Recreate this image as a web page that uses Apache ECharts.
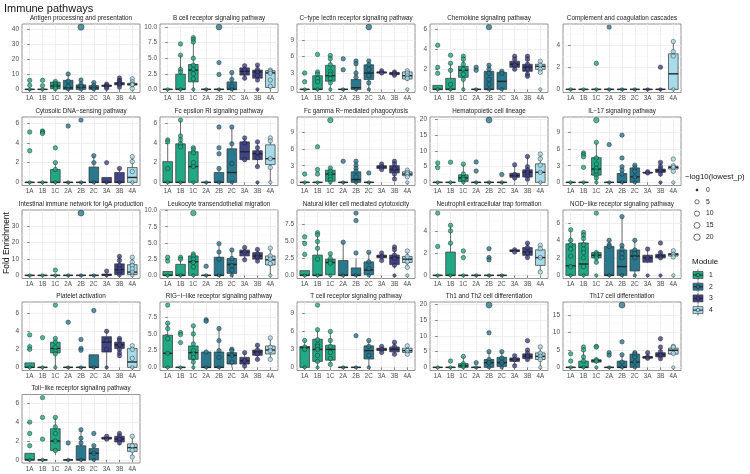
<!DOCTYPE html>
<html><head><meta charset="utf-8">
<script src="https://cdn.jsdelivr.net/npm/echarts@6/dist/echarts.min.js"></script>
<style>html,body{margin:0;padding:0;background:#fff}#c{width:750px;height:474px}</style>
</head><body><div id="c"></div>
<script>
// ---------- data ----------
const categories = ['1A','1B','1C','2A','2B','2C','3A','3B','4A'];
const modules = [1,1,1,2,2,2,3,3,4];
const panelTitles = [
 'Antigen processing and presentation','B cell receptor signaling pathway','C\u2212type lectin receptor signaling pathway','Chemokine signaling pathway','Complement and coagulation cascades',
 'Cytosolic DNA\u2212sensing pathway','Fc epsilon RI signaling pathway','Fc gamma R\u2212mediated phagocytosis','Hematopoietic cell lineage','IL\u221217 signaling pathway',
 'Intestinal immune network for IgA production','Leukocyte transendothelial migration','Natural killer cell mediated cytotoxicity','Neutrophil extracellular trap formation','NOD\u2212like receptor signaling pathway',
 'Platelet activation','RIG\u2212I\u2212like receptor signaling pathway','T cell receptor signaling pathway','Th1 and Th2 cell differentiation','Th17 cell differentiation',
 'Toll\u2212like receptor signaling pathway'];
// y tick labels per panel
const ticks_antigen=['0','10','20','30','40'];
const ticks_bcell=['0.0','2.5','5.0','7.5','10.0'];
const ticks_ctype=['0','3','6','9'];
const ticks_chemo=['0','2','4','6'];
const ticks_compl=['0','2','4'];
const ticks_cyto=['0','2','4','6'];
const ticks_fceps=['0','2','4','6'];
const ticks_fcgam=['0','3','6','9'];
const ticks_hema=['0','5','10','15','20'];
const ticks_il17=['0','3','6','9'];
const ticks_iga=['0','10','20','30'];
const ticks_leuko=['0.0','2.5','5.0','7.5','10.0'];
const ticks_nk=['0.0','2.5','5.0','7.5'];
const ticks_neut=['0','2','4'];
const ticks_nod=['0','2','4','6'];
const ticks_plat=['0','2','4','6'];
const ticks_rig=['0.0','2.5','5.0','7.5'];
const ticks_tcell=['0','3','6','9'];
const ticks_th12=['0','5','10','15','20'];
const ticks_th17=['0','5','10','15'];
const ticks_toll=['0','2','4','6'];
// box stats [min, Q1, median, Q3, max] per category 1A..4A
const Z=[0,0,0,0,0];
const box_antigen=[Z,Z,[0,0.5,2.2,4.8,5.2],[0,0,1,6,10.2],[0,0,1.5,3,6.2],[0,0,1,2.5,4.5],[0.8,2,2.5,2.8,3.5],[1.5,3,3.8,4.5,7.5],[0.5,2.8,3.4,4,7]];
const box_bcell=[Z,[0,0,0,2.45,5.5],[0,1.2,3.1,4.0,8.3],Z,Z,[0,0,0,1.2,2.7],[1.75,2.3,2.9,3.45,3.8],[1.4,1.8,2.8,3.1,3.9],[0,0.3,2.65,3.0,3.1]];
const box_ctype=[Z,[0,0,0,2.5,3.2],[0,1.5,2.5,4.4,6.2],Z,[0,0,0.3,1.8,5.2],[0,1.8,3.0,4.5,5.2],[2.8,3.0,3.1,3.2,3.4],[2.5,2.7,2.9,3.1,3.2],[1.5,1.9,2.5,3.2,3.4]];
const box_chemo=[[0,0,0,0.4,0.4],[0,0,0,1.1,2.6],[0,1.2,1.9,2.3,3.4],Z,[0,0,0,1.8,2.5],[0,0,0.8,1.7,1.8],[1.9,2.2,2.5,2.8,3.3],[1.3,1.8,2.2,2.5,3.3],[1.7,2.0,2.3,2.5,2.8]];
const box_compl=[Z,Z,Z,Z,Z,Z,Z,Z,[0,0,1.4,3.2,4.3]];
const box_cyto=[Z,Z,[0,0,0,1.3,2.0],Z,Z,[0,0,0,1.55,2.7],[0,0,0,0.5,0.5],[0,0,0,1.0,1.4],[0,0,0.5,1.5,2.6]];
const box_fceps=[[0,0,0,2.1,4.3],[0,0,0,3.9,6.3],[0,0,1.6,3.1,3.5],Z,[0,0,0,1.0,1.4],[0,0,1.0,3.4,5.6],[2.2,2.3,3.1,4.1,4.5],[1.6,2.3,2.9,3.2,4.1],[0,1.8,2.4,3.8,4.5]];
const box_fcgam=[Z,Z,[0,0.2,1.5,2.2,2.6],Z,[0,0,0.5,1.9,3.8],Z,[2.2,2.5,2.8,3.0,3.3],[0.6,1.7,2.3,3.0,3.8],[0.8,1.2,1.5,1.9,2.2]];
const box_hema=[Z,Z,[0,0.3,1.4,2.4,5.8],Z,Z,Z,[0.3,1.6,2.2,2.9,5.6],[0.5,1.7,3.2,4.0,8.2],[0,0,3.2,5.9,9.0]];
const box_il17=[Z,Z,[0,1.3,2.4,4.45,7.2],Z,[0,0,0,1.6,2.8],[0,0,1.0,2.6,3.1],[1.6,1.7,1.75,1.8,1.9],[1.0,1.8,2.1,2.4,3.6],[1.8,2.4,2.7,2.9,3.2]];
const box_iga=[Z,Z,Z,Z,Z,Z,[0,0,0.2,0.8,0.8],[0,0.5,3.5,7,11.5],[0,0.5,2,6.5,11]];
const box_leuko=[[0,0,0,0.6,0.6],[0,0,0,1.7,2.8],[0,0,2.1,3.0,3.3],Z,[0,0,0,2.8,4.9],[0,0.3,1.7,2.6,3.9],[2.4,3.0,3.6,3.9,4.3],[2.0,2.5,3.0,3.5,4.0],[0,1.6,2.4,3.0,4.2]];
const box_nk=[[0,0,0,0.7,0.7],[0,0,0,3.0,6.3],[0,0.1,1.9,2.4,3.2],[0,0,0,2.2,4.9],[0,0,0,1.1,2.5],[0,0.1,0.8,2.0,3.4],[2.2,2.6,2.8,3.0,3.3],[1.0,1.6,2.6,3.0,4.2],[1.2,1.9,2.4,2.8,3.6]];
const box_neut=[Z,[0,0,0,2.1,4.5],Z,Z,Z,Z,[2.1,2.15,2.2,2.3,2.35],[1.5,1.8,2.1,2.5,2.9],[0.3,0.9,1.6,2.3,2.7]];
const box_nod=[[0,0,1.1,3.6,5.2],[0,0,1.3,3.7,4.9],[1.5,2.0,2.3,2.6,2.8],[0,0,0,3.3,4.0],[0,0,1.0,2.9,6.7],[0,0.5,2.2,2.9,4.0],[1.4,1.5,2.0,2.3,3.0],[1.8,2.0,2.2,2.4,2.8],[2.0,2.2,2.4,2.5,2.8]];
const box_plat=[[0,0,0,0.5,0.5],Z,[0,1.6,2.1,2.8,3.2],Z,Z,[0,0,0,1.4,1.4],[0,1.7,2.8,3.4,4.0],[1.3,2.1,2.5,2.8,3.2],[0,0,0.6,2.1,2.4]];
const box_rig=[[0,0,2.1,4.8,6.6],Z,[0,1.2,2.2,3.2,6.2],[0,0,0,2.3,2.3],[0,0,0,2.3,5.8],[0,0.5,1.8,2.2,2.7],[0.2,0.5,1.0,1.5,2.2],[1.2,1.8,2.3,2.6,3.3],[1.2,2.0,2.6,3.2,4.4]];
const box_tcell=[[0,0,3.3,3.5,4.5],[0,1.0,3.0,4.7,6.3],[0.5,1.2,3.0,3.7,6.0],Z,Z,[0,1.4,2.8,3.6,4.5],[2.5,2.8,3.0,3.2,3.5],[2.2,2.6,3.0,3.4,4.2],[2.2,2.5,2.8,3.2,3.6]];
const box_th12=[Z,Z,[0,0,0.5,1.2,3.5],Z,[0,0,1.5,2.5,5.0],[0,0.3,1.5,3.2,5.0],[0.5,1.9,2.5,3.0,3.7],[2.0,2.8,3.5,4.3,5.5],[0,2.5,3.5,4.6,6.5]];
const box_th17=[Z,[0,0,0,1.8,5.8],[1.0,1.5,1.9,2.2,2.8],Z,[0,0,0,1.8,3.6],[0,0,1.5,3.8,4.2],[2.5,2.6,2.9,3.1,4.2],[2.0,3.0,3.6,4.2,5.8],[3.8,3.8,4.9,5.5,6.0]];
const box_toll=[[0,0,0,0.7,0.7],Z,[0.5,1.0,2.0,3.3,4.5],Z,[0,0,0,1.5,3.2],[0,0,0.7,1.2,1.5],[2.1,2.2,2.3,2.4,2.5],[1.6,1.9,2.2,2.5,2.8],[0.3,0.9,1.3,1.7,2.5]];
// points: [category, fold enrichment, -log10(p) (optional)]
const pts_antigen=[['1A',6],['1A',2.7],['1A',0],['1B',6],['1B',2.5],['1B',0],['1C',5.2],['1C',4],['1C',3],['1C',2],['1C',1.2],['1C',0.5],['2A',10.2],['2A',5.5],['2A',2],['2A',0],['2B',41.3,18],['2B',6.2],['2B',3.5],['2B',2],['2B',0],['2C',4.5],['2C',2.5],['2C',1],['2C',0],['3A',3.5],['3A',2.6],['3A',1.5],['3A',0.8],['3B',7.5],['3B',6],['3B',5],['3B',4],['3B',3],['3B',1.5],['4A',7],['4A',5],['4A',3.5],['4A',3],['4A',0.5]];
const pts_bcell=[['1A',0],['1B',7.3],['1B',5.5],['1B',3.2],['1B',2.8],['1B',0],['1C',8.3],['1C',8.0],['1C',7.6],['1C',5.0],['1C',3.9],['1C',3.2],['1C',2.5],['1C',1.7],['1C',0],['2A',0],['2B',10.0,14],['2B',4.3],['2B',2.4],['2B',0],['2C',2.7],['2C',1.6],['2C',0.5],['2C',0],['3A',3.8],['3A',3.2],['3A',2.6],['3A',1.8],['3B',3.9],['3B',3.2],['3B',2.8],['3B',2.2],['3B',1.5],['3B',0],['4A',3.1],['4A',2.9],['4A',2.6],['4A',1.5],['4A',0.5]];
const pts_ctype=[['1A',3.0],['1A',1.4],['1A',0],['1B',6.4],['1B',3.2],['1B',2.8],['1B',2.0],['1B',1.4],['1B',0],['1C',6.2],['1C',5.6],['1C',4.5],['1C',3.3],['1C',2.8],['1C',2.0],['1C',1.2],['1C',0],['2A',5.6],['2A',3.6],['2A',0],['2B',5.2],['2B',4.7],['2B',3.0],['2B',2.2],['2B',0],['2C',11.4,14],['2C',5.2],['2C',4.5],['2C',3.6],['2C',2.5],['2C',1.2],['2C',0],['3A',3.4],['3A',3.0],['3B',3.2],['3B',2.9],['3B',2.6],['4A',3.4],['4A',3.0],['4A',2.5],['4A',2.0],['4A',0]];
const pts_chemo=[['1A',4.4],['1A',2.2],['1A',1.6],['1A',0],['1B',3.4],['1B',2.6],['1B',1.9],['1B',0.5],['1B',0],['1C',3.3],['1C',3.0],['1C',2.5],['1C',2.0],['1C',1.5],['1C',1.0],['1C',0],['2A',2.2],['2A',1.9],['2A',0],['2B',6.2,12],['2B',2.4],['2B',2.0],['2B',1.6],['2B',1.0],['2B',0.5],['2B',0],['2C',1.8],['2C',1.6],['2C',0],['3A',3.3],['3A',3.0],['3A',2.4],['3A',2.0],['3B',3.3],['3B',3.0],['3B',2.5],['3B',2.0],['3B',1.5],['3B',1.3],['4A',2.8],['4A',2.4],['4A',2.0],['4A',1.7],['4A',0]];
const pts_compl=[['1A',0],['1B',0],['1C',2.35],['1C',0],['2A',5.6],['2A',0],['2B',0],['2C',0],['3A',0],['3B',2.0],['3B',0],['4A',4.3],['4A',3.4],['4A',3.0],['4A',0]];
const pts_cyto=[['1A',5.1],['1A',3.2],['1A',0],['1B',5.2],['1B',5.1],['1B',4.95],['1B',0],['1C',3.5],['1C',2.0],['1C',1.3],['1C',0],['2A',5.7],['2A',0],['2B',6.3],['2B',0],['2C',2.7],['2C',2.0],['2C',0],['3A',2.0],['3A',0],['3B',1.4],['3B',0],['4A',2.6],['4A',2.1],['4A',1.1],['4A',0]];
const pts_fceps=[['1A',4.3],['1A',4.1],['1A',1.4],['1A',0],['1B',6.3],['1B',4.7],['1B',4.3],['1B',3.9],['1B',3.6],['1B',0],['1C',3.5],['1C',3.3],['1C',3.0],['1C',2.0],['1C',1.6],['1C',0],['2A',0],['2B',5.6],['2B',3.5],['2B',2.9],['2B',1.4],['2B',0],['2C',5.6],['2C',3.9],['2C',1.9],['2C',0],['3A',4.5],['3A',4.0],['3A',2.3],['3B',4.1],['3B',3.5],['3B',3.0],['3B',2.5],['3B',1.6],['3B',0],['4A',4.5],['4A',4.2],['4A',2.4],['4A',1.5],['4A',0]];
const pts_fcgam=[['1A',1.5],['1A',0],['1B',6.4],['1B',2.3],['1B',1.5],['1B',0],['1C',11.2,12],['1C',2.6],['1C',2.0],['1C',1.5],['1C',1.0],['1C',0.5],['1C',0],['2A',3.8],['2A',0],['2B',3.8],['2B',3.1],['2B',2.5],['2B',2.0],['2B',1.0],['2B',0],['2C',1.7],['2C',0],['3A',3.3],['3A',2.8],['3A',2.3],['3B',3.8],['3B',3.3],['3B',2.5],['3B',1.5],['3B',0.6],['4A',2.2],['4A',1.8],['4A',1.5],['4A',1.0],['4A',0]];
const pts_hema=[['1A',6.2],['1A',4.7],['1A',0],['1B',6.4],['1B',0],['1C',5.8],['1C',2.7],['1C',1.5],['1C',1.0],['1C',0],['2A',6.5],['2A',3.6],['2A',0],['2B',19.8,16],['2B',0],['2C',2.5],['2C',0],['3A',5.6],['3A',2.5],['3A',1.4],['3B',8.2],['3B',5.0],['3B',4.0],['3B',3.0],['3B',2.0],['3B',1.0],['4A',9.0],['4A',7.5],['4A',5.5],['4A',3.2],['4A',0]];
const pts_il17=[['1A',0],['1B',5.3],['1B',5.0],['1B',4.6],['1B',2.7],['1B',0],['1C',11.2,12],['1C',7.2],['1C',4.4],['1C',3.3],['1C',2.5],['1C',2.0],['1C',1.3],['1C',0.8],['1C',0],['2A',6.8],['2A',0],['2B',8.5],['2B',4.4],['2B',2.8],['2B',2.2],['2B',1.5],['2B',0],['2C',3.1],['2C',2.6],['2C',2.0],['2C',1.0],['2C',0],['3A',1.9],['3A',1.7],['3B',3.6],['3B',2.9],['3B',2.4],['3B',2.0],['3B',1.5],['3B',0],['4A',4.2],['4A',3.0],['4A',2.7],['4A',2.0],['4A',0]];
const pts_iga=[['1A',0],['1B',0],['1C',3.2],['1C',0],['2A',0],['2B',37.8,16],['2B',0],['2C',0],['3A',2.6],['3A',0],['3B',11.5],['3B',9],['3B',6],['3B',4],['3B',2],['3B',0.5],['4A',11],['4A',8],['4A',6],['4A',4],['4A',2],['4A',0]];
const pts_leuko=[['1A',2.8],['1A',2.2],['1A',0],['1B',2.8],['1B',2.5],['1B',0],['1C',9.6,12],['1C',3.3],['1C',3.0],['1C',2.5],['1C',2.0],['1C',1.3],['1C',0],['2A',1.4],['2A',0],['2B',4.9],['2B',3.6],['2B',2.5],['2B',0],['2C',3.9],['2C',2.6],['2C',1.5],['2C',0.8],['2C',0],['3A',4.3],['3A',3.6],['3A',2.4],['3B',4.0],['3B',3.3],['3B',2.8],['3B',2.2],['4A',4.2],['4A',3.0],['4A',2.5],['4A',1.8],['4A',0]];
const pts_nk=[['1A',5.7],['1A',4.7],['1A',3.1],['1A',0],['1B',6.3],['1B',6.0],['1B',5.0],['1B',4.0],['1B',2.4],['1B',0],['1C',3.2],['1C',2.5],['1C',2.0],['1C',1.8],['1C',0],['2A',4.9],['2A',0],['2B',9.2],['2B',8.1],['2B',3.3],['2B',0],['2C',3.4],['2C',2.0],['2C',1.0],['2C',0],['3A',3.3],['3A',2.8],['3A',2.2],['3B',4.2],['3B',3.8],['3B',3.0],['3B',2.5],['3B',1.5],['3B',0],['4A',3.6],['4A',2.8],['4A',2.0],['4A',1.2],['4A',0]];
const pts_neut=[['1A',5.6],['1A',2.6],['1A',0],['1B',4.5],['1B',4.0],['1B',2.9],['1B',0],['1C',2.2],['1C',1.6],['1C',0],['2A',0],['2B',2.4],['2B',1.6],['2B',1.4],['2B',0],['2C',0],['3A',2.3],['3A',2.1],['3B',2.9],['3B',2.5],['3B',2.0],['3B',1.6],['4A',2.7],['4A',2.4],['4A',1.6],['4A',0.3]];
const pts_nod=[['1A',5.2],['1A',4.0],['1A',3.5],['1A',3.0],['1A',2.2],['1A',1.0],['1A',0],['1B',4.9],['1B',4.6],['1B',4.2],['1B',3.5],['1B',3.0],['1B',2.6],['1B',2.0],['1B',1.0],['1B',0],['1C',7.1],['1C',2.6],['1C',2.4],['1C',2.2],['1C',2.0],['1C',1.5],['1C',0],['2A',4.0],['2A',3.5],['2A',3.3],['2A',0],['2B',6.7],['2B',3.4],['2B',3.0],['2B',2.5],['2B',2.0],['2B',0],['2C',4.0],['2C',2.9],['2C',2.5],['2C',2.0],['2C',0],['3A',3.0],['3A',2.0],['3A',0],['3B',3.7],['3B',2.6],['3B',2.2],['3B',2.0],['3B',0],['4A',2.8],['4A',2.4],['4A',2.1],['4A',0]];
const pts_plat=[['1A',3.6],['1A',2.3],['1A',2.0],['1A',0],['1B',3.3],['1B',0],['1C',6.9],['1C',3.2],['1C',2.8],['1C',2.2],['1C',1.8],['1C',1.5],['1C',0],['2A',5.0],['2A',0],['2B',3.1],['2B',2.1],['2B',1.9],['2B',0],['2C',6.3],['2C',0],['3A',4.0],['3A',3.0],['3A',2.0],['3A',0],['3B',3.2],['3B',3.0],['3B',2.5],['3B',2.0],['3B',1.6],['3B',1.3],['4A',2.4],['4A',2.0],['4A',1.0],['4A',0]];
const pts_rig=[['1A',9.3],['1A',6.6],['1A',5.8],['1A',4.3],['1A',2.1],['1A',0],['1B',5.2],['1B',4.9],['1B',3.7],['1B',0],['1C',6.2],['1C',5.0],['1C',3.5],['1C',2.5],['1C',2.0],['1C',1.5],['1C',0.8],['1C',0],['2A',7.1],['2A',6.9],['2A',2.3],['2A',0],['2B',5.8],['2B',4.0],['2B',2.5],['2B',1.5],['2B',0],['2C',2.7],['2C',2.5],['2C',1.8],['2C',0.8],['3A',2.2],['3A',1.0],['3A',0.2],['3B',3.3],['3B',2.6],['3B',2.0],['3B',1.2],['4A',4.4],['4A',3.0],['4A',2.5],['4A',1.2]];
const pts_tcell=[['1A',4.5],['1A',3.4],['1A',3.0],['1A',0],['1B',10.4],['1B',6.3],['1B',4.6],['1B',3.8],['1B',3.5],['1B',3.0],['1B',2.0],['1B',1.0],['1B',0],['1C',6.0],['1C',4.5],['1C',3.5],['1C',2.5],['1C',1.5],['1C',0.5],['2A',0],['2B',5.3],['2B',0],['2C',4.5],['2C',3.5],['2C',2.0],['2C',0],['3A',3.5],['3A',3.0],['3A',2.5],['3B',4.2],['3B',3.5],['3B',2.2],['4A',3.6],['4A',2.8],['4A',2.2]];
const pts_th12=[['1A',0],['1B',2.0],['1B',0],['1C',3.5],['1C',1.2],['1C',0.5],['1C',0],['2A',1.5],['2A',0],['2B',19.8,16],['2B',11],['2B',5.0],['2B',2.5],['2B',1.5],['2B',0],['2C',5.0],['2C',3.0],['2C',1.5],['2C',0],['3A',3.7],['3A',2.5],['3A',0.5],['3B',8.5],['3B',5.5],['3B',4.5],['3B',3.5],['3B',2.5],['4A',6.5],['4A',4.5],['4A',3.5],['4A',2.5],['4A',0]];
const pts_th17=[['1A',3.9],['1A',1.8],['1A',0],['1B',5.8],['1B',5.0],['1B',3.0],['1B',1.8],['1B',0],['1C',6.0],['1C',5.8],['1C',2.2],['1C',1.8],['1C',0],['2A',4.2],['2A',3.5],['2A',0],['2B',17.8,16],['2B',7.3],['2B',3.6],['2B',1.5],['2B',0],['2C',4.2],['2C',3.8],['2C',3.0],['2C',1.5],['2C',0],['3A',4.2],['3A',3.0],['3A',2.6],['3B',8.2],['3B',5.8],['3B',4.5],['3B',3.5],['3B',2.5],['4A',6.0],['4A',5.8],['4A',4.0],['4A',0]];
const pts_toll=[['1A',4.0],['1A',2.8],['1A',1.5],['1A',0],['1B',6.6],['1B',4.5],['1B',2.2],['1B',0],['1C',4.5],['1C',3.5],['1C',2.8],['1C',2.0],['1C',1.0],['2A',1.8],['2A',0],['2B',3.2],['2B',2.3],['2B',1.8],['2B',0],['2C',2.8],['2C',1.5],['2C',0.7],['2C',0],['3A',2.5],['3A',2.2],['3B',2.8],['3B',2.5],['3B',2.2],['3B',1.8],['4A',2.5],['4A',1.5],['4A',1.0],['4A',0.3]];
const sizeLegendValues=[0,5,10,15,20];
const moduleLabels=['1','2','3','4'];

const panelTicks=[ticks_antigen,ticks_bcell,ticks_ctype,ticks_chemo,ticks_compl,ticks_cyto,ticks_fceps,ticks_fcgam,ticks_hema,ticks_il17,ticks_iga,ticks_leuko,ticks_nk,ticks_neut,ticks_nod,ticks_plat,ticks_rig,ticks_tcell,ticks_th12,ticks_th17,ticks_toll];
const panelBoxes=[box_antigen,box_bcell,box_ctype,box_chemo,box_compl,box_cyto,box_fceps,box_fcgam,box_hema,box_il17,box_iga,box_leuko,box_nk,box_neut,box_nod,box_plat,box_rig,box_tcell,box_th12,box_th17,box_toll];
const panelPoints=[pts_antigen,pts_bcell,pts_ctype,pts_chemo,pts_compl,pts_cyto,pts_fceps,pts_fcgam,pts_hema,pts_il17,pts_iga,pts_leuko,pts_nk,pts_neut,pts_nod,pts_plat,pts_rig,pts_tcell,pts_th12,pts_th17,pts_toll];

// ---------- style / layout ----------
const moduleColors={1:'#22a884',2:'#2a788e',3:'#414487',4:'#a8dbe9'};
const FONT='"Liberation Sans", Arial, sans-serif';
const colLeft=[22,160,297,430,563], plotW=118;
const rowTop=[24,117,210,302,394.5], plotH=68.5;
const symSize=p=>2+Math.sqrt(p);

const grid=[],xAxis=[],yAxis=[],series=[],graphic=[];
panelTitles.forEach((title,i)=>{
  const c=i%5,r=Math.floor(i/5);
  const L=colLeft[c],T=rowTop[r];
  grid.push({left:L,top:T,width:plotW,height:plotH,show:true,borderColor:'#7a7a7a',borderWidth:0.8,backgroundColor:'#fff'});
  const catIdx=categories.map((_,k)=>k);
  xAxis.push({type:'value',gridIndex:i,min:-0.6,max:8.6,
    axisLine:{show:false},
    axisTick:{show:true,customValues:catIdx,length:2.5,lineStyle:{color:'#333',width:0.6}},
    axisLabel:{customValues:catIdx,formatter:v=>categories[Math.round(v)],fontSize:6.3,color:'#4d4d4d',margin:3,fontFamily:FONT},
    splitLine:{show:true,lineStyle:{color:'#ebebeb',width:0.8}}});
  const tl=panelTicks[i], tv=tl.map(Number);
  const allVals=[].concat(...panelBoxes[i]).concat(panelPoints[i].map(p=>p[1]));
  const hi=Math.max(...allVals), lo=0;
  const ymin=lo-0.05*(hi-lo), ymax=hi+0.05*(hi-lo);
  const step=tv[1]-tv[0];
  const minors=tv.map(t=>t+step/2).filter(m=>m<ymax);
  yAxis.push({type:'value',gridIndex:i,min:ymin,max:ymax,
    axisLine:{show:false},
    axisTick:{show:true,customValues:tv,length:2.5,lineStyle:{color:'#333',width:0.6}},
    axisLabel:{customValues:tv,formatter:v=>{const j=tv.indexOf(v);return j>=0?tl[j]:'';},fontSize:6.5,color:'#4d4d4d',margin:3,fontFamily:FONT},
    splitLine:{show:true,lineStyle:{color:'#ebebeb',width:0.8}}});
  yAxis.push({type:'value',gridIndex:i,min:ymin,max:ymax,position:'left',
    axisLine:{show:false},axisLabel:{show:false},
    axisTick:{show:false,customValues:minors},
    splitLine:{show:true,lineStyle:{color:'#f4f4f4',width:0.5}}});
  const boxes=panelBoxes[i];
  series.push({type:'custom',xAxisIndex:i,yAxisIndex:2*i,z:3,
    data:boxes.map((b,k)=>[k].concat(b)),
    renderItem:(params,api)=>{
      const k=api.value(0);
      const xc=api.coord([k,0])[0];
      const w=api.size([1,0])[0]*0.75;
      const y=j=>api.coord([k,api.value(j)])[1];
      const pMn=y(1),pQ1=y(2),pMd=y(3),pQ3=y(4),pMx=y(5);
      const col=moduleColors[modules[k]];
      return {type:'group',children:[
        {type:'line',shape:{x1:xc,y1:pMx,x2:xc,y2:pQ3},style:{stroke:'#333',lineWidth:0.7}},
        {type:'line',shape:{x1:xc,y1:pQ1,x2:xc,y2:pMn},style:{stroke:'#333',lineWidth:0.7}},
        {type:'rect',shape:{x:xc-w/2,y:pQ3,width:w,height:Math.max(pQ1-pQ3,0)},style:{fill:col,stroke:'#333',lineWidth:0.7}},
        {type:'line',shape:{x1:xc-w/2,y1:pMd,x2:xc+w/2,y2:pMd},style:{stroke:'#262626',lineWidth:1.4}}
      ]};
    }});
  series.push({type:'scatter',xAxisIndex:i,yAxisIndex:2*i,z:5,
    data:panelPoints[i].map(p=>{
      const k=categories.indexOf(p[0]);
      const lp=p.length>2?p[2]:(p[1]===0?2:6);
      return {value:[k,p[1],lp],itemStyle:{color:moduleColors[modules[k]]}};
    }),
    symbolSize:d=>symSize(d[2]),
    itemStyle:{borderColor:'#111',borderWidth:0.5},
    emphasis:{disabled:true}});
  graphic.push({type:'text',x:L+plotW/2,y:T-6,style:{text:title,font:'6.3px '+FONT,fill:'#1a1a1a',align:'center',verticalAlign:'middle'}});
});

graphic.push({type:'text',x:4,y:8.5,style:{text:'Immune pathways',font:'11px '+FONT,fill:'#111',align:'left',verticalAlign:'middle'}});
graphic.push({type:'text',x:7,y:243,rotation:Math.PI/2,style:{text:'Fold Enrichment',font:'8.5px '+FONT,fill:'#111',align:'center',verticalAlign:'middle'}});
// size legend
graphic.push({type:'text',x:685,y:177,style:{text:'\u2212log10(lowest_p)',font:'7.8px '+FONT,fill:'#111',align:'left',verticalAlign:'middle'}});
sizeLegendValues.forEach((v,j)=>{
  const yy=190+j*11.8;
  graphic.push({type:'circle',shape:{cx:697,cy:yy,r:symSize(v)/2},style:{fill:v===0?'#111':'#fff',stroke:'#111',lineWidth:0.6}});
  graphic.push({type:'text',x:706,y:yy,style:{text:String(v),font:'6.8px '+FONT,fill:'#222',align:'left',verticalAlign:'middle'}});
});
// module legend
graphic.push({type:'text',x:692,y:262,style:{text:'Module',font:'8px '+FONT,fill:'#111',align:'left',verticalAlign:'middle'}});
moduleLabels.forEach((m,j)=>{
  const yy=275+j*11.7;
  graphic.push({type:'line',shape:{x1:698,y1:yy-5.5,x2:698,y2:yy+5.5},style:{stroke:'#333',lineWidth:0.7}});
  graphic.push({type:'rect',shape:{x:693,y:yy-3.5,width:10,height:7},style:{fill:moduleColors[m],stroke:'#333',lineWidth:0.6}});
  graphic.push({type:'line',shape:{x1:693,y1:yy,x2:703,y2:yy},style:{stroke:'#262626',lineWidth:1.1}});
  graphic.push({type:'circle',shape:{cx:698,cy:yy,r:1.8},style:{fill:moduleColors[m],stroke:'#111',lineWidth:0.5}});
  graphic.push({type:'text',x:709,y:yy,style:{text:m,font:'6.8px '+FONT,fill:'#222',align:'left',verticalAlign:'middle'}});
});

const chart=echarts.init(document.getElementById('c'),null,{renderer:'canvas'});
chart.setOption({animation:false,backgroundColor:'#fff',textStyle:{fontFamily:FONT},grid,xAxis,yAxis,series,graphic});
</script></body></html>
